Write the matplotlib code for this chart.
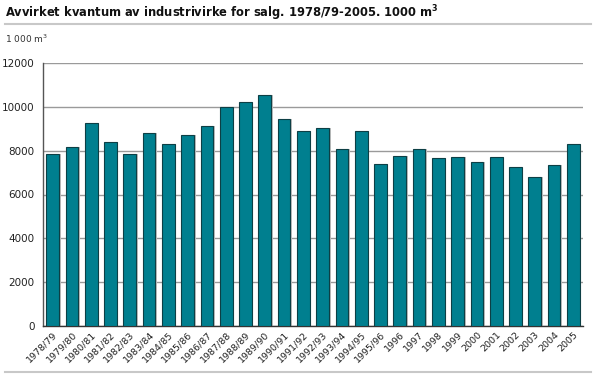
import numpy as np
import matplotlib
matplotlib.use('Agg')
import matplotlib.pyplot as plt

seasons = ['1978/79', '1979/80', '1980/81', '1981/82', '1982/83', '1983/84',
           '1984/85', '1985/86', '1986/87', '1987/88', '1988/89', '1989/90',
           '1990/91', '1991/92', '1992/93', '1993/94', '1994/95', '1995/96',
           '1996', '1997', '1998', '1999', '2000', '2001', '2002', '2003',
           '2004', '2005']
volume = [7840, 8160, 9256, 8390, 7840, 8800, 8325, 8708, 9119, 9986,
          10215, 10534, 9452, 8904, 9056, 8068, 8890, 7384, 7749, 8068,
          7671, 7703, 7475, 7703, 7260, 6790, 7352, 8297]
yticks = [0, 2000, 4000, 6000, 8000, 10000, 12000]

fig = plt.figure(figsize=(5.96, 3.74), dpi=100)
ax = fig.add_axes([43 / 596, 1 - 326 / 374, 540 / 596, 263 / 374])

x = np.arange(len(seasons))
# light shadow behind each bar, then the bar itself
ax.bar(x + 0.08, volume, width=0.66, color='#bdbdbd', zorder=2, bottom=0)
ax.bar(x, volume, width=0.66, color='#007f8f', edgecolor='#0d3f45',
       linewidth=0.8, zorder=3)

ax.set_xlim(-0.5, len(seasons) - 0.5)
ax.set_ylim(0, 12000)
ax.set_yticks(yticks)
ax.set_yticklabels([str(v) for v in yticks], fontsize=7.5, color='#222222')
ax.set_xticks(x)
ax.set_xticklabels(seasons, rotation=45, ha='right', rotation_mode='anchor',
                   fontsize=6.8, color='#222222')
ax.tick_params(axis='y', length=0, pad=6)
ax.tick_params(axis='x', length=0, pad=3)

ax.yaxis.grid(True, color='#9a9a9a', linewidth=1.0, zorder=1)
ax.set_axisbelow(True)
for s in ['top', 'right']:
    ax.spines[s].set_visible(False)
ax.spines['left'].set_color('#555555')
ax.spines['bottom'].set_color('#333333')
ax.spines['left'].set_linewidth(1.0)
ax.spines['bottom'].set_linewidth(1.0)

fig.text(5 / 596, 1 - 13 / 374,
         r'Avvirket kvantum av industrivirke for salg. 1978/79-2005. 1000 m$^{\mathbf{3}}$',
         fontsize=8.3, fontweight='bold', va='center', ha='left', color='#111111')
fig.text(5 / 596, 1 - 39 / 374, r'1 000 m$^3$', fontsize=6.5, va='center',
         ha='left', color='#333333')

fig.add_artist(plt.Line2D([5 / 596, 591 / 596], [1 - 24 / 374, 1 - 24 / 374],
                          color='#c8c8c8', linewidth=1.5))
fig.add_artist(plt.Line2D([5 / 596, 591 / 596], [1 - 372 / 374, 1 - 372 / 374],
                          color='#c8c8c8', linewidth=1.5))

fig.savefig('out.png', dpi=100)
